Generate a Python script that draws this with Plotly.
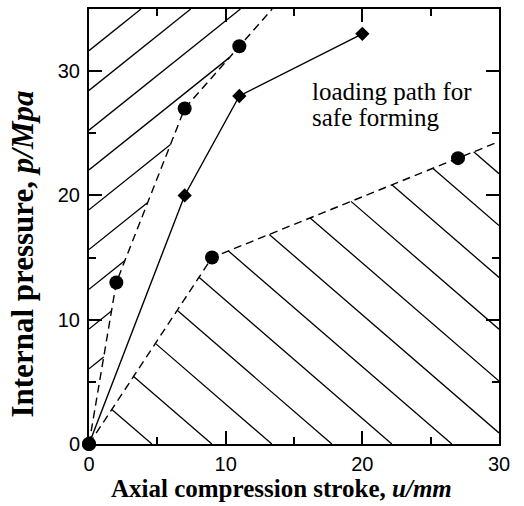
import plotly.graph_objects as go

# ---- data ----
upper_x = [0, 2, 7, 11]          # upper limit boundary, circles
upper_y = [0, 13, 27, 32]
path_x = [0, 7, 11, 20]          # loading path for safe forming, diamonds
path_y = [0, 20, 28, 33]
lower_x = [0, 9, 27]             # lower limit boundary, circles
lower_y = [0, 15, 23]

X_MAX, Y_MAX = 30, 35
x_ticks = [0, 10, 20, 30]
y_ticks = [0, 10, 20, 30]

# extend boundaries (last segment) to the edge of the axes
ux_end = upper_x[-1] + (Y_MAX - upper_y[-1]) * (upper_x[-1] - upper_x[-2]) / (upper_y[-1] - upper_y[-2])
ly_end = lower_y[-1] + (X_MAX - lower_x[-1]) * (lower_y[-1] - lower_y[-2]) / (lower_x[-1] - lower_x[-2])
ub_x = upper_x + [ux_end]
ub_y = upper_y + [Y_MAX]
lb_x = lower_x + [X_MAX]
lb_y = lower_y + [ly_end]

upper_poly = list(zip(ub_x, ub_y)) + [(0, Y_MAX)]
lower_poly = list(zip(lb_x, lb_y)) + [(X_MAX, 0)]


def hatch(poly, m, cs):
    xs_out, ys_out = [], []
    n = len(poly)
    for c in cs:
        hits = []
        for i in range(n):
            (px, py), (qx, qy) = poly[i], poly[(i + 1) % n]
            den = (qy - py) - m * (qx - px)
            if abs(den) < 1e-12:
                continue
            t = (m * px + c - py) / den
            if 0 <= t < 1:
                hits.append(px + t * (qx - px))
        hits.sort()
        for a, b in zip(hits[0::2], hits[1::2]):
            xs_out += [a, b, None]
            ys_out += [m * a + c, m * b + c, None]
    return xs_out, ys_out


hu_x, hu_y = hatch(upper_poly, 0.88, [6.05 + 3.2 * k for k in range(9)])
m_low = -0.95
hl_x, hl_y = hatch(lower_poly, m_low, [-m_low * (4.6 + 4.39 * k) for k in range(12)])

fig = go.Figure()
fig.add_trace(go.Scatter(x=hu_x, y=hu_y, mode="lines", line=dict(color="black", width=1.3), hoverinfo="skip"))
fig.add_trace(go.Scatter(x=hl_x, y=hl_y, mode="lines", line=dict(color="black", width=1.3), hoverinfo="skip"))

fig.add_trace(go.Scatter(x=ub_x, y=ub_y, mode="lines", line=dict(color="black", width=1.4, dash="8px,5px")))
fig.add_trace(go.Scatter(x=lb_x, y=lb_y, mode="lines", line=dict(color="black", width=1.4, dash="8px,5px")))
fig.add_trace(go.Scatter(x=path_x, y=path_y, mode="lines+markers", line=dict(color="black", width=1.4),
                         marker=dict(symbol="diamond", size=11, color="black"), cliponaxis=False))
fig.add_trace(go.Scatter(x=upper_x, y=upper_y, mode="markers",
                         marker=dict(symbol="circle", size=14, color="black"), cliponaxis=False))
fig.add_trace(go.Scatter(x=lower_x, y=lower_y, mode="markers",
                         marker=dict(symbol="circle", size=14, color="black"), cliponaxis=False))

text_font = dict(family="Liberation Serif", size=25, color="black")
fig.add_annotation(x=16.15, y=28.4, xref="x", yref="y", xanchor="left", yanchor="middle",
                   text="loading path for", showarrow=False, font=text_font)
fig.add_annotation(x=16.15, y=26.3, xref="x", yref="y", xanchor="left", yanchor="middle",
                   text="safe forming", showarrow=False, font=text_font)

# axis titles
fig.add_annotation(x=0.4707, y=-0.137, xref="paper", yref="paper", xanchor="center", yanchor="bottom",
                   text="<b>Axial compression stroke, <i>u/mm</i></b>", showarrow=False,
                   font=dict(family="Liberation Serif", size=25, color="black"))
fig.add_annotation(x=-0.163, y=0.436, xref="paper", yref="paper", xanchor="center", yanchor="middle",
                   text="<b>Internal pressure, <i>p/Mpa</i></b>", showarrow=False, textangle=-90,
                   font=dict(family="Liberation Serif", size=31, color="black"))

axis_common = dict(showgrid=False, zeroline=False, showline=True, linecolor="black", linewidth=2,
                   mirror="allticks", ticks="inside", ticklen=13, tickwidth=1.5, tickcolor="black",
                   tickfont=dict(family="Liberation Sans", size=20, color="black"),
                   minor=dict(ticks="inside", ticklen=7, tickwidth=1.5, tickcolor="black", dtick=5))

fig.update_xaxes(range=[0, X_MAX], tickvals=x_ticks, ticklabelstandoff=1, **axis_common)
fig.update_yaxes(range=[0, Y_MAX], tickvals=y_ticks, ticklabelstandoff=3, **axis_common)

fig.update_layout(width=524, height=506, margin=dict(l=89, r=25, t=7, b=62),
                  paper_bgcolor="white", plot_bgcolor="white", showlegend=False)

fig.write_html("out.html")
